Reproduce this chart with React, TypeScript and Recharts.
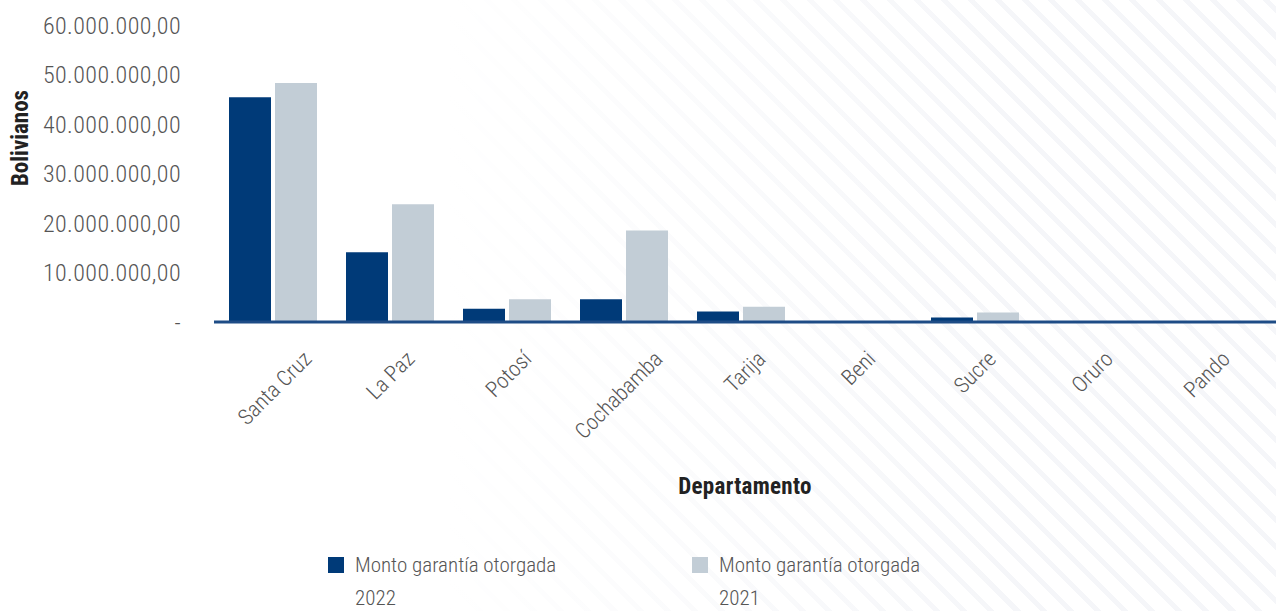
import React from 'react'
import { BarChart, Bar, XAxis, YAxis } from 'recharts'

const departamentos = ['Santa Cruz', 'La Paz', 'Potosí', 'Cochabamba', 'Tarija', 'Beni', 'Sucre', 'Oruro', 'Pando']
const monto2022 = [45400000, 14100000, 2700000, 4600000, 2100000, 0, 900000, 0, 0]
const monto2021 = [48300000, 23800000, 4600000, 18500000, 3100000, 0, 1900000, 0, 0]
const yTicks = [0, 10000000, 20000000, 30000000, 40000000, 50000000, 60000000]

const series = [
  { key: 'm2022', label: 'Monto garantía otorgada', year: '2022', color: '#003a78' },
  { key: 'm2021', label: 'Monto garantía otorgada', year: '2021', color: '#c2cdd6' },
]

const data = departamentos.map((name, i) => ({
  name,
  m2022: monto2022[i],
  m2021: monto2021[i],
}))

const FONT = "Roboto, sans-serif"
const TEXT = '#555'
const condensed = { fontStretch: 'condensed' }

// 60000000 -> "60.000.000,00", 0 -> "-"
const formatBs = (v: number) => {
  if (v === 0) return '-'
  const int = Math.round(v).toString().replace(/\B(?=(\d{3})+(?!\d))/g, '.')
  return int + ',00'
}

const XTick = (props: any) => {
  const { x, y, payload } = props
  const len = String(payload.value).length * 9.9
  const ex = x + len * 0.354
  const ey = y + 25
  return (
    <text
      x={ex}
      y={ey}
      textAnchor="end"
      dominantBaseline="central"
      transform={`rotate(-45, ${ex}, ${ey})`}
      fill={TEXT}
      fontSize={22}
      fontWeight={300}
      style={condensed}
      fontFamily={FONT}
    >
      {payload.value}
    </text>
  )
}

export default function App() {
  return (
    <div
      style={{
        position: 'absolute',
        left: 0,
        top: 0,
        width: 1276,
        height: 611,
        background:
          'linear-gradient(to right, #fff 35%, rgba(255,255,255,0) 80%), repeating-linear-gradient(45deg, #fff 0px, #fff 14px, #f5f6f9 14px, #f5f6f9 19px)',
        fontFamily: FONT,
        fontStretch: 'condensed',
      }}
    >
      <BarChart
        width={1276}
        height={611}
        data={data}
        margin={{ top: 25, right: 0, left: 0, bottom: 0 }}
        barSize={42}
        barGap={4}
      >
        <XAxis
          dataKey="name"
          height={289}
          padding={{ left: 0, right: 9 }}
          axisLine={{ stroke: '#1e4c86', strokeWidth: 3 }}
          tickLine={false}
          interval={0}
          tick={<XTick />}
          label={() => (
            <text x={745} y={486} textAnchor="middle" dominantBaseline="central" fill="#222" fontSize={23} fontWeight="bold" letterSpacing={0.3} style={condensed} fontFamily={FONT}>
              Departamento
            </text>
          )}
        />
        <YAxis
          width={214}
          domain={[0, 60000000]}
          ticks={yTicks}
          tickFormatter={formatBs}
          axisLine={false}
          tickLine={false}
          tickMargin={27}
          tick={{ fill: TEXT, fontSize: 24, fontWeight: 300, letterSpacing: 0.4, fontFamily: FONT, style: condensed }}
          label={() => (
            <text x={20} y={138} textAnchor="middle" dominantBaseline="central" transform="rotate(-90, 20, 138)" fill="#222" fontSize={23} fontWeight="bold" style={condensed} fontFamily={FONT}>
              Bolivianos
            </text>
          )}
        />
        {series.map(s => (
          <Bar key={s.key} dataKey={s.key} fill={s.color} isAnimationActive={false} />
        ))}
      </BarChart>
      {series.map((s, i) => (
        <div
          key={s.key}
          style={{
            position: 'absolute',
            left: i === 0 ? 328 : 692,
            top: 549,
            display: 'flex',
            alignItems: 'flex-start',
            color: TEXT,
            fontSize: 21,
            fontWeight: 300,
            lineHeight: '33px',
          }}
        >
          <span style={{ width: 16, height: 16, background: s.color, marginTop: 8, marginRight: 11, flex: 'none' }} />
          <span>
            {s.label}
            <br />
            {s.year}
          </span>
        </div>
      ))}
    </div>
  )
}
